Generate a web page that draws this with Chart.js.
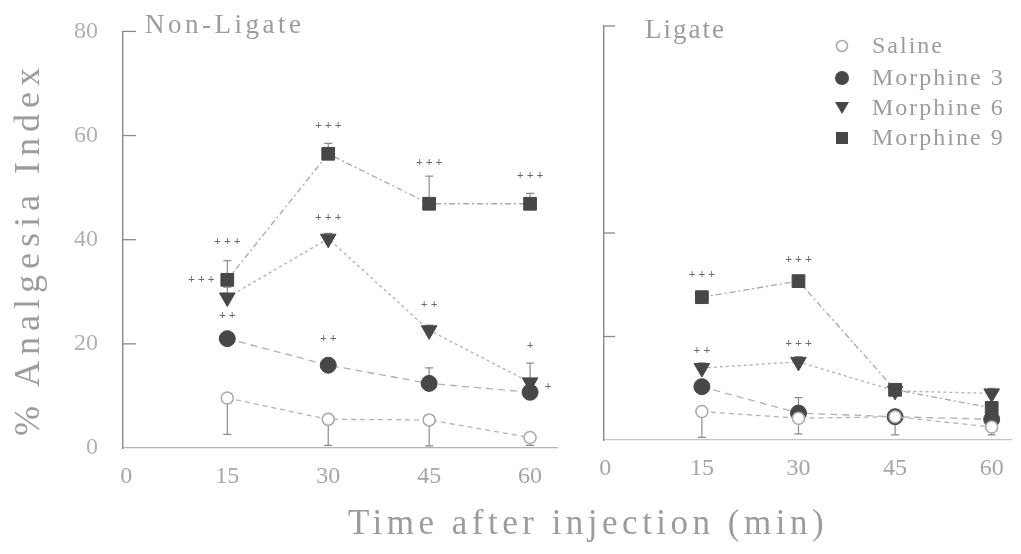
<!DOCTYPE html>
<html><head><meta charset="utf-8">
<script src="https://cdn.jsdelivr.net/npm/chart.js@4.4.1/dist/chart.umd.min.js"></script>
<style>
html,body{margin:0;padding:0;background:#fff;}
#wrap{position:relative;width:1021px;height:554px;overflow:hidden;background:#fff;font-family:"Liberation Serif","DejaVu Serif",serif;color:#9c9c9c;}
canvas{position:absolute;top:0;}
.t{position:absolute;white-space:nowrap;line-height:1;}
</style></head><body>
<div id="wrap">
<canvas id="cA" width="580" height="554" style="left:0;width:580px;height:554px"></canvas>
<canvas id="cB" width="441" height="554" style="left:580px;width:441px;height:554px"></canvas>
<div class="t" style="left:145px;top:11px;font-size:27px;letter-spacing:3.5px;">Non-Ligate</div>
<div class="t" style="left:645px;top:16px;font-size:27px;letter-spacing:2px;">Ligate</div>
<div class="t" id="lg0" style="left:872px;top:33px;font-size:24px;letter-spacing:2px;">Saline</div>
<div class="t" id="lg1" style="left:872px;top:65px;font-size:24px;letter-spacing:2px;">Morphine 3</div>
<div class="t" id="lg2" style="left:872px;top:95px;font-size:24px;letter-spacing:2px;">Morphine 6</div>
<div class="t" id="lg3" style="left:872px;top:125px;font-size:24px;letter-spacing:2px;">Morphine 9</div>
<div class="t" style="left:27px;top:249px;transform:translate(-50%,-50%) rotate(-90deg);font-size:36px;letter-spacing:6px;">% Analgesia Index</div>
<div class="t" style="left:588px;top:522px;transform:translate(-50%,-50%);font-size:35px;letter-spacing:4.5px;">Time after injection (min)</div>
</div>
<script>
// ---------- data ----------
const times = [15, 30, 45, 60];
const xTicks = [0, 15, 30, 45, 60];
const yTicks = [0, 20, 40, 60, 80];
const seriesNames = ['Saline', 'Morphine 3', 'Morphine 6', 'Morphine 9'];

// Non-Ligate panel
const nlSaline    = [9.6, 5.5, 5.4, 2.0];
const nlMorphine3 = [21.0, 15.9, 12.4, 10.7];
const nlMorphine6 = [28.9, 40.2, 22.6, 12.6];
const nlMorphine9 = [32.3, 56.5, 46.9, 46.9];
const nlSalineErr    = [7.0, 5.0, 5.0, 1.5];
const nlMorphine3Err = [1.0, 1.0, 3.0, 1.5];
const nlMorphine6Err = [2.0, 1.0, 1.0, 3.7];
const nlMorphine9Err = [3.7, 2.0, 5.3, 2.0];

// Ligate panel
const lSaline    = [5.5, 4.2, 4.5, 2.5];
const lMorphine3 = [10.3, 5.2, 4.5, 4.0];
const lMorphine6 = [13.9, 15.1, 9.5, 9.0];
const lMorphine9 = [27.6, 30.7, 9.7, 6.2];
const lSalineErr    = [5.0, 3.0, 3.5, 1.5];
const lMorphine3Err = [1.0, 3.0, 1.0, 1.0];
const lMorphine6Err = [1.0, 1.0, 1.0, 1.0];
const lMorphine9Err = [1.0, 1.0, 1.0, 1.0];

// significance marks: [series index, point index, text]
const nlMarks = [[3,0,'+ + +'],[2,0,'+ + +'],[1,0,'+ +'],[3,1,'+ + +'],[2,1,'+ + +'],[1,1,'+ +'],
                 [3,2,'+ + +'],[2,2,'+ +'],[3,3,'+ + +'],[2,3,'+'],[1,3,'+']];
const lMarks  = [[3,0,'+ + +'],[2,0,'+ +'],[3,1,'+ + +'],[2,1,'+ + +']];

// ---------- styling ----------
const SERIF = '"Liberation Serif","DejaVu Serif",serif';
const MARK = '#474747';
const styles = [
  {pointStyle:'circle', radius:6, bg:'#ffffff', bc:'#a8a8a8', bw:1.5, rot:0, line:'#b4b4b4', dash:[5,4], errDir:-1},
  {pointStyle:'circle', radius:8, bg:MARK, bc:MARK, bw:1, rot:0, line:'#b0b0b0', dash:[7,5], errDir:1},
  {pointStyle:'triangle', radius:9, bg:MARK, bc:MARK, bw:1, rot:180, line:'#b0b0b0', dash:[3,3], errDir:1},
  {pointStyle:'rect', radius:9, bg:MARK, bc:MARK, bw:1, rot:0, line:'#a8a8a8', dash:[6,3,2,3], errDir:1}
];
// offsets of significance marks relative to the point (px)
const nlMarkOff = [[0,-38],[-26,0],[0,-23],[0,-28],[0,-21],[0,-26],[0,-41],[0,-25],[0,-28],[0,-36],[18,-5]];
const lMarkOff  = [[0,-22],[0,-17],[0,-21],[0,-18]];
const nlMarkAnchor = [null,[3,0],null,null,null,null,null,null,null,null,null];

function makeDatasets(vals){
  return vals.map((arr, k) => ({
    label: seriesNames[k],
    data: times.map((t, i) => ({x: t, y: arr[i]})),
    showLine: true,
    borderColor: styles[k].line,
    borderWidth: 1.3,
    borderDash: styles[k].dash,
    tension: 0,
    fill: false,
    pointStyle: styles[k].pointStyle,
    pointRadius: styles[k].radius,
    pointRotation: styles[k].rot,
    pointBackgroundColor: styles[k].bg,
    pointBorderColor: styles[k].bc,
    pointBorderWidth: styles[k].bw,
    clip: false
  }));
}

const decor = {
  id: 'decor',
  beforeDatasetsDraw(chart, args, o){
    const {ctx, scales:{x, y}} = chart;
    ctx.save();
    ctx.strokeStyle = '#8a8a8a'; ctx.lineWidth = 1.3; ctx.setLineDash([]);
    o.tickVals.forEach(v => {
      const py = y.getPixelForValue(v);
      ctx.beginPath(); ctx.moveTo(x.left, py); ctx.lineTo(x.left + o.tickLen, py); ctx.stroke();
    });
    ctx.strokeStyle = '#8c8c8c'; ctx.lineWidth = 1.2;
    chart.data.datasets.forEach((ds, di) => {
      ds.data.forEach((pt, i) => {
        const e = o.errors[di][i];
        const px = x.getPixelForValue(pt.x);
        const p0 = y.getPixelForValue(pt.y);
        const p1 = y.getPixelForValue(Math.max(0, pt.y + styles[di].errDir * e));
        ctx.beginPath(); ctx.moveTo(px, p0); ctx.lineTo(px, p1);
        ctx.moveTo(px - 4, p1); ctx.lineTo(px + 4, p1); ctx.stroke();
      });
    });
    ctx.restore();
  },
  afterDatasetsDraw(chart, args, o){
    const {ctx, scales:{x, y}} = chart;
    ctx.save();
    ctx.fillStyle = '#6a6a6a';
    ctx.font = 'bold 12px ' + SERIF;
    ctx.textAlign = 'center'; ctx.textBaseline = 'middle';
    o.marks.forEach((m, j) => {
      const anc = (o.anchors && o.anchors[j]) || [m[0], m[1]];
      const v = chart.data.datasets[anc[0]].data[anc[1]];
      const px = x.getPixelForValue(v.x) + o.offsets[j][0];
      const py = y.getPixelForValue(v.y) + o.offsets[j][1];
      ctx.fillText(m[2], px, py);
    });
    if (o.legend) {
      const rows = [46, 78, 108, 138];
      const lx = 842 - 580;
      rows.forEach((ry, k) => {
        const s = styles[k];
        ctx.fillStyle = s.bg; ctx.strokeStyle = s.bc; ctx.lineWidth = s.bw;
        ctx.beginPath();
        if (k === 0) { ctx.arc(lx, ry, 5.5, 0, Math.PI*2); ctx.fill(); ctx.stroke(); }
        else if (k === 1) { ctx.arc(lx, ry, 7, 0, Math.PI*2); ctx.fill(); }
        else if (k === 2) { ctx.moveTo(lx-7, ry-6); ctx.lineTo(lx+7, ry-6); ctx.lineTo(lx, ry+6); ctx.closePath(); ctx.fill(); }
        else { ctx.rect(lx-6, ry-6, 12, 12); ctx.fill(); }
      });
    }
    ctx.restore();
  }
};

function scalesFor(opts){
  return {
    x: {
      type: 'linear', min: opts.xmin, max: opts.xmax,
      afterBuildTicks: s => { s.ticks = xTicks.map(v => ({value: v})); },
      afterFit: s => { s.height = opts.xh; },
      ticks: {font: {family: SERIF, size: 24}, color: '#a6a6a6', padding: opts.xpad, maxRotation: 0, autoSkip: false},
      grid: {display: false},
      border: {display: true, color: opts.xborder, width: 1.2, dash: opts.xdash}
    },
    y: {
      type: 'linear', min: 0, max: 80,
      afterBuildTicks: s => { s.ticks = yTicks.map(v => ({value: v})); },
      afterFit: s => { s.width = opts.yw; },
      ticks: {display: opts.ylabels, font: {family: SERIF, size: 24}, color: '#b0b0b0', padding: 17},
      grid: {display: false},
      border: {display: true, color: '#8a8a8a', width: 1.4}
    }
  };
}

new Chart(document.getElementById('cA'), {
  type: 'scatter',
  data: {datasets: makeDatasets([nlSaline, nlMorphine3, nlMorphine6, nlMorphine9])},
  options: {
    responsive: false, animation: false, devicePixelRatio: 1,
    layout: {padding: {left: 0, right: 23, top: 30, bottom: 0}},
    plugins: {legend: {display: false}, tooltip: {enabled: false},
      decor: {tickVals: [20, 40, 60, 80], tickLen: 13,
        errors: [nlSalineErr, nlMorphine3Err, nlMorphine6Err, nlMorphine9Err],
        marks: nlMarks, offsets: nlMarkOff, anchors: nlMarkAnchor, legend: false}},
    scales: scalesFor({xmin: -0.5, xmax: 64, xh: 106, xpad: 6, xborder: '#b4b4b4', xdash: [], yw: 123, ylabels: true})
  },
  plugins: [decor]
});

new Chart(document.getElementById('cB'), {
  type: 'scatter',
  data: {datasets: makeDatasets([lSaline, lMorphine3, lMorphine6, lMorphine9])},
  options: {
    responsive: false, animation: false, devicePixelRatio: 1,
    layout: {padding: {left: 0, right: 3, top: 26, bottom: 0}},
    plugins: {legend: {display: false}, tooltip: {enabled: false},
      decor: {tickVals: [20, 40, 80], tickLen: 11,
        errors: [lSalineErr, lMorphine3Err, lMorphine6Err, lMorphine9Err],
        marks: lMarks, offsets: lMarkOff, anchors: null, legend: true}},
    scales: scalesFor({xmin: -0.2, xmax: 63, xh: 114, xpad: 6, xborder: '#c4c4c4', xdash: [6, 5], yw: 24, ylabels: false})
  },
  plugins: [decor]
});
</script>
</body></html>
